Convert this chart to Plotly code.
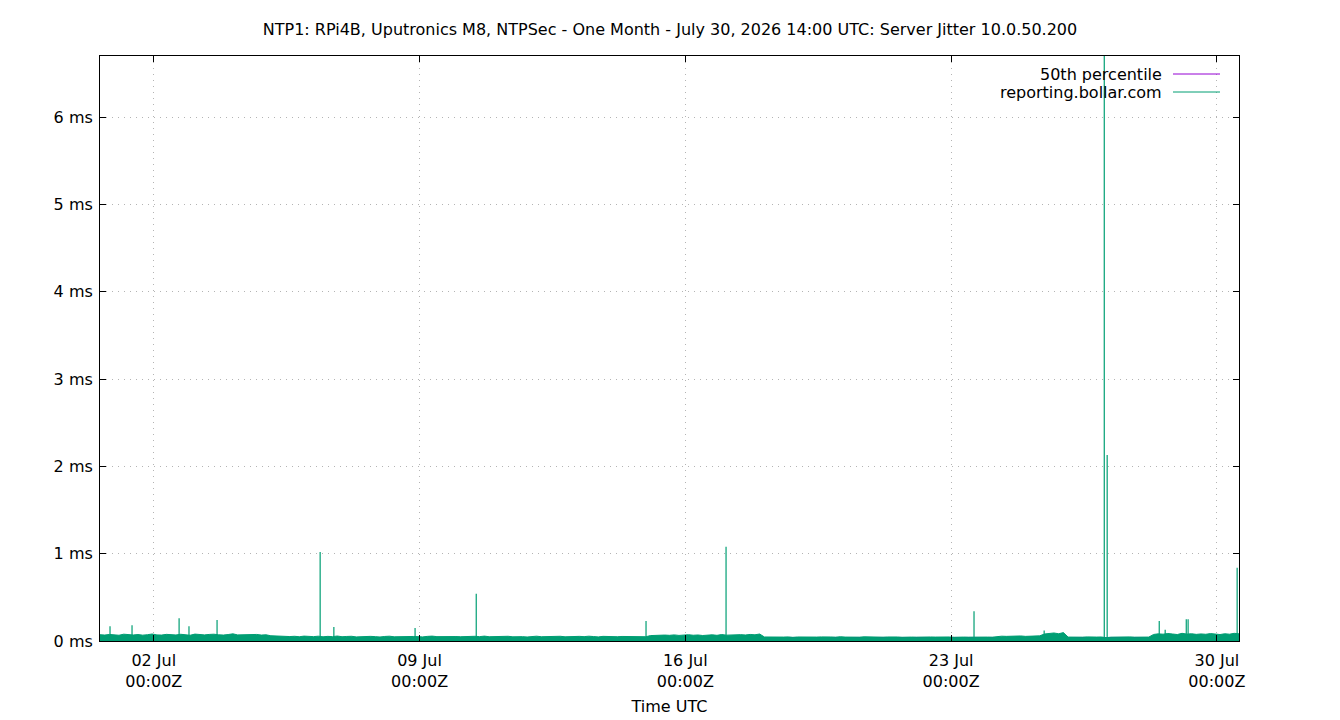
import pandas as pd
import plotly.graph_objects as go

# ---- data ----
start_time = "2026-06-30 14:00"
end_time = "2026-07-30 14:00"

# baseline jitter, ms, every 3 hours from start_time
baseline_ms = [
    0.072, 0.068, 0.075, 0.070, 0.066, 0.078, 0.071, 0.069,
    0.074, 0.067, 0.072, 0.080, 0.070, 0.068, 0.076, 0.071,
    0.069, 0.077, 0.073, 0.066, 0.079, 0.072, 0.070, 0.075,
    0.078, 0.071, 0.068, 0.074, 0.082, 0.070, 0.073, 0.069,
    0.072, 0.075, 0.068, 0.071, 0.060, 0.056, 0.052, 0.055,
    0.051, 0.054, 0.049, 0.056, 0.052, 0.050, 0.055, 0.048,
    0.053, 0.050, 0.057, 0.049, 0.052, 0.054, 0.047, 0.051,
    0.049, 0.053, 0.050, 0.046, 0.052, 0.055, 0.048, 0.051,
    0.054, 0.049, 0.052, 0.050, 0.047, 0.053, 0.056, 0.050,
    0.052, 0.048, 0.055, 0.051, 0.049, 0.053, 0.050, 0.054,
    0.050, 0.056, 0.049, 0.052, 0.047, 0.051, 0.054, 0.048,
    0.053, 0.050, 0.046, 0.052, 0.055, 0.049, 0.051, 0.047,
    0.050, 0.054, 0.048, 0.052, 0.049, 0.053, 0.050, 0.055,
    0.051, 0.047, 0.053, 0.050, 0.054, 0.049, 0.052, 0.050,
    0.048, 0.053, 0.051, 0.049, 0.062, 0.066, 0.063, 0.068,
    0.065, 0.070, 0.064, 0.067, 0.072, 0.066, 0.069, 0.063,
    0.068, 0.071, 0.065, 0.074, 0.067, 0.070, 0.066, 0.073,
    0.069, 0.075, 0.071, 0.080, 0.046, 0.044, 0.048, 0.043,
    0.045, 0.047, 0.042, 0.046, 0.044, 0.048, 0.043, 0.045,
    0.047, 0.043, 0.046, 0.044, 0.049, 0.045, 0.042, 0.046,
    0.044, 0.048, 0.045, 0.043, 0.047, 0.044, 0.046, 0.042,
    0.046, 0.043, 0.048, 0.045, 0.044, 0.047, 0.043, 0.046,
    0.045, 0.047, 0.044, 0.046, 0.043, 0.048, 0.045, 0.044,
    0.046, 0.043, 0.047, 0.045, 0.044, 0.052, 0.055, 0.053,
    0.056, 0.054, 0.058, 0.053, 0.057, 0.055, 0.059, 0.080,
    0.085, 0.092, 0.083, 0.096, 0.045, 0.043, 0.046, 0.044,
    0.047, 0.043, 0.045, 0.046, 0.038, 0.044, 0.046, 0.043,
    0.045, 0.047, 0.044, 0.046, 0.048, 0.045, 0.075, 0.082,
    0.078, 0.086, 0.080, 0.074, 0.088, 0.079, 0.083, 0.076,
    0.081, 0.077, 0.085, 0.079, 0.074, 0.083, 0.078, 0.088,
    0.082,
]

spike_times = [
    "2026-06-30 20:20", "2026-07-01 10:15", "2026-07-02 16:00", "2026-07-02 22:15",
    "2026-07-03 16:00", "2026-07-06 09:10", "2026-07-06 17:50", "2026-07-08 21:10",
    "2026-07-10 11:50", "2026-07-14 23:10", "2026-07-17 01:45", "2026-07-23 14:30",
    "2026-07-25 10:50", "2026-07-27 00:50", "2026-07-27 02:40", "2026-07-28 11:35",
    "2026-07-28 15:20", "2026-07-29 04:40", "2026-07-29 05:50", "2026-07-30 12:50",
]
spike_ms = [
    0.17, 0.18, 0.26, 0.17,
    0.24, 1.02, 0.16, 0.15,
    0.54, 0.23, 1.08, 0.34,
    0.12, 6.90, 2.13, 0.23,
    0.13, 0.25, 0.25, 0.84,
]

median_ms = 0.04

tick_dates = ["2026-07-02", "2026-07-09", "2026-07-16", "2026-07-23", "2026-07-30"]
tick_labels = ["02 Jul<br>00:00Z", "09 Jul<br>00:00Z", "16 Jul<br>00:00Z",
               "23 Jul<br>00:00Z", "30 Jul<br>00:00Z"]
y_ticks = [0, 1, 2, 3, 4, 5, 6]
y_labels = [f"{v} ms" for v in y_ticks]

title_text = ("NTP1: RPi4B, Uputronics M8, NTPSec - One Month - July 30, 2026 14:00 UTC: "
              "Server Jitter 10.0.50.200")
legend_names = ["50th percentile", "reporting.bollar.com"]

GREEN = "#009e73"
PURPLE = "#9400d3"
FONT = "DejaVu Sans"
FS = 16

# ---- figure ----
times = pd.date_range(start_time, periods=len(baseline_ms), freq="3h")

fig = go.Figure()
fig.add_trace(go.Scatter(
    x=[start_time, end_time], y=[median_ms, median_ms], mode="lines",
    line=dict(color=PURPLE, width=1), showlegend=False, hoverinfo="skip"))
fig.add_trace(go.Scatter(
    x=times, y=baseline_ms, mode="lines", fill="tozeroy",
    fillcolor=GREEN, line=dict(color=GREEN, width=1), showlegend=False))

sx, sy = [], []
for t, v in zip(spike_times, spike_ms):
    sx += [t, t, None]
    sy += [0, v, None]
fig.add_trace(go.Scatter(x=sx, y=sy, mode="lines",
                         line=dict(color=GREEN, width=1.2), showlegend=False))

axis_common = dict(
    showline=True, linecolor="black", linewidth=1, mirror="ticks",
    ticks="inside", ticklen=6, tickcolor="black", automargin=False,
    showgrid=True, gridcolor="#b4b4b4", griddash="1px,5px", gridwidth=1,
    zeroline=False, tickfont=dict(family=FONT, size=FS, color="black"),
)

fig.update_xaxes(range=[start_time, end_time], tickvals=tick_dates, ticktext=tick_labels,
                 ticklabelstandoff=5,
                 title=dict(text="Time UTC", font=dict(family=FONT, size=FS, color="black"),
                            standoff=10),
                 **axis_common)
fig.update_yaxes(range=[0, 6.7], tickvals=y_ticks, ticktext=y_labels,
                 ticklabelstandoff=3, **axis_common)

# legend (gnuplot style: text then line sample)
legend_rows_y = [74, 92]
legend_colors = [PURPLE, GREEN]
for name, yy, col in zip(legend_names, legend_rows_y, legend_colors):
    fig.add_annotation(text=name, xref="paper", yref="paper",
                       x=(1164 - 100) / 1139, y=(641 - yy) / 585, xanchor="right",
                       yanchor="middle", showarrow=False,
                       font=dict(family=FONT, size=FS, color="black"))
    fig.add_shape(type="line", xref="paper", yref="paper",
                  x0=(1173 - 100) / 1139, x1=(1220 - 100) / 1139,
                  y0=(641 - yy) / 585, y1=(641 - yy) / 585,
                  line=dict(color=col, width=1))

fig.update_layout(
    width=1340, height=720,
    margin=dict(l=100, r=101, t=56, b=79),
    paper_bgcolor="white", plot_bgcolor="white",
    title=dict(text=title_text, x=0.5, xanchor="center", y=1 - 29 / 720,
               yanchor="middle", font=dict(family=FONT, size=FS, color="black")),
    showlegend=False,
    font=dict(family=FONT, size=FS, color="black"),
)

fig.write_html("out.html")
